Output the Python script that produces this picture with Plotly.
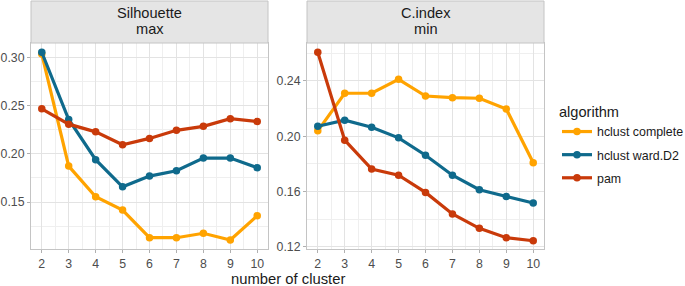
import plotly.graph_objects as go

clusters = [2, 3, 4, 5, 6, 7, 8, 9, 10]
algorithms = ["hclust complete", "hclust ward.D2", "pam"]
colors = {"hclust complete": "#FFA300", "hclust ward.D2": "#0F6A8C", "pam": "#C93A0A"}

silhouette_complete = [0.3034, 0.1872, 0.1555, 0.1417, 0.1130, 0.1130, 0.1176, 0.1107, 0.1358]
silhouette_ward = [0.3052, 0.2355, 0.1938, 0.1658, 0.1769, 0.1824, 0.1955, 0.1955, 0.1855]
silhouette_pam = [0.2466, 0.2307, 0.2227, 0.2093, 0.2159, 0.2243, 0.2284, 0.2363, 0.2334]

cindex_complete = [0.2039, 0.2311, 0.2311, 0.2412, 0.2291, 0.2279, 0.2275, 0.2197, 0.1807]
cindex_ward = [0.2072, 0.2116, 0.2065, 0.1988, 0.1862, 0.1717, 0.1612, 0.1564, 0.1516]
cindex_pam = [0.2608, 0.1971, 0.1762, 0.1717, 0.1593, 0.1437, 0.1333, 0.1265, 0.1243]

panel_titles = [["Silhouette", "max"], ["C.index", "min"]]
x_label = "number of cluster"
legend_title = "algorithm"

W, H = 685, 286
def px(v): return v / W
def py(v): return 1 - v / H

FONT = "Liberation Sans, Arial"
fig = go.Figure()
sil = {"hclust complete": silhouette_complete, "hclust ward.D2": silhouette_ward, "pam": silhouette_pam}
cin = {"hclust complete": cindex_complete, "hclust ward.D2": cindex_ward, "pam": cindex_pam}

for alg in algorithms:
    fig.add_trace(go.Scatter(x=clusters, y=sil[alg], mode="lines+markers", name=alg,
                             line=dict(color=colors[alg], width=3.2),
                             marker=dict(color=colors[alg], size=7.5),
                             legendgroup=alg, xaxis="x", yaxis="y"))
for alg in algorithms:
    fig.add_trace(go.Scatter(x=clusters, y=cin[alg], mode="lines+markers", name=alg,
                             line=dict(color=colors[alg], width=3.2),
                             marker=dict(color=colors[alg], size=7.5),
                             legendgroup=alg, showlegend=False, xaxis="x2", yaxis="y2"))

grid = "#E3E3E3"
minor_grid = "#EFEFEF"
border = "#C4C4C4"
tickfont = dict(family=FONT, size=12.3, color="#4D4D4D")

def xaxis(domain, anchor):
    return dict(domain=domain, anchor=anchor, range=[1.6, 10.4], tickmode="array",
                tickvals=clusters, ticktext=[str(c) for c in clusters],
                showgrid=True, gridcolor=grid, gridwidth=1,
                minor=dict(tickvals=[2.5 + i for i in range(8)], showgrid=True,
                           gridcolor=minor_grid, gridwidth=1),
                ticks="outside", ticklen=3, tickcolor="#B0B0B0",
                showline=True, linecolor=border, mirror=True, linewidth=1,
                zeroline=False, tickfont=tickfont, automargin=False)

def yaxis(domain, anchor, rng, vals, minorvals):
    return dict(domain=domain, anchor=anchor, range=rng, tickmode="array",
                tickvals=vals, ticktext=["%.2f" % v for v in vals],
                showgrid=True, gridcolor=grid, gridwidth=1,
                minor=dict(tickvals=minorvals, showgrid=True, gridcolor=minor_grid, gridwidth=1),
                ticks="outside", ticklen=3, tickcolor="#B0B0B0",
                showline=True, linecolor=border, mirror=True, linewidth=1,
                zeroline=False, tickfont=tickfont, automargin=False)

ydom = [py(249), py(43)]
x1dom = [px(31), px(268)]
x2dom = [px(307), px(544)]

fig.update_layout(
    width=W, height=H,
    margin=dict(l=0, r=0, t=0, b=0, autoexpand=False),
    paper_bgcolor="white", plot_bgcolor="white",
    xaxis=xaxis(x1dom, "y"),
    yaxis=yaxis(ydom, "x", [0.1013, 0.3148], [0.15, 0.20, 0.25, 0.30], [0.125, 0.175, 0.225, 0.275]),
    xaxis2=xaxis(x2dom, "y2"),
    yaxis2=yaxis(ydom, "x2", [0.1183, 0.2675], [0.12, 0.16, 0.20, 0.24], [0.14, 0.18, 0.22, 0.26]),
    legend=dict(title=dict(text=legend_title, font=dict(family=FONT, size=14.6, color="#1A1A1A")),
                font=dict(family=FONT, size=12.4, color="#1A1A1A"),
                x=px(557), y=py(98), xanchor="left", yanchor="top",
                bgcolor="rgba(0,0,0,0)", itemwidth=30, tracegroupgap=4),
    showlegend=True,
)

shapes = []
annotations = []
for dom, (l1, l2) in zip([x1dom, x2dom], panel_titles):
    shapes.append(dict(type="rect", xref="paper", yref="paper",
                       x0=dom[0], x1=dom[1], y0=py(43), y1=py(1),
                       fillcolor="#E5E5E5", line=dict(color=border, width=1)))
    for txt, yc in ((l1, 13.5), (l2, 29)):
        annotations.append(dict(text=txt, xref="paper", yref="paper",
                                x=(dom[0] + dom[1]) / 2, y=py(yc),
                                xanchor="center", yanchor="middle", showarrow=False,
                                font=dict(family=FONT, size=14.6, color="#1A1A1A")))
annotations.append(dict(text=x_label, xref="paper", yref="paper",
                        x=(x1dom[0] + x2dom[1]) / 2, y=py(278.5), xanchor="center", yanchor="middle",
                        showarrow=False,
                        font=dict(family=FONT, size=14.8, color="#1A1A1A")))
fig.update_layout(shapes=shapes, annotations=annotations)

fig.write_html("out.html", config={"displayModeBar": False},
               post_script="document.body.style.margin='0';document.body.style.overflow='hidden';")
